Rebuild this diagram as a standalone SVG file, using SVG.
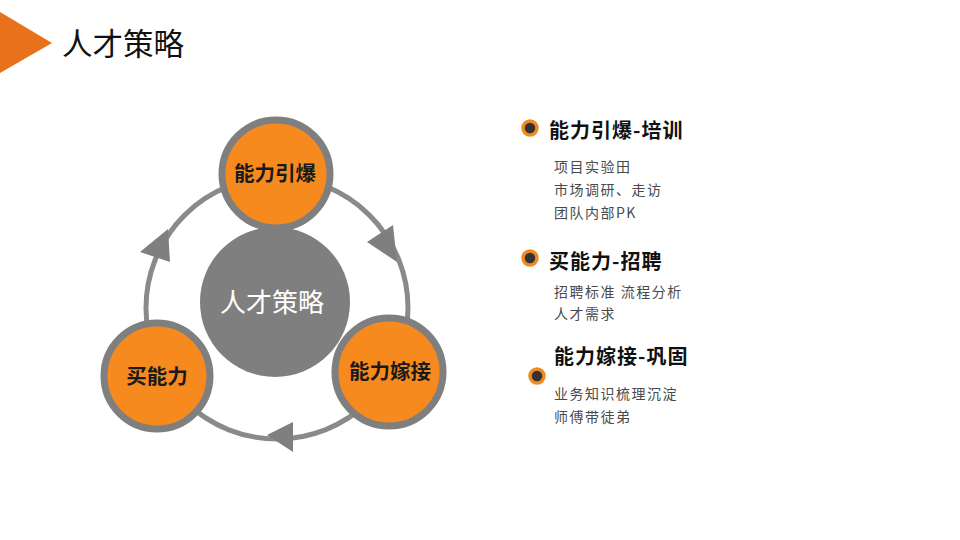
<svg xmlns="http://www.w3.org/2000/svg" width="960" height="540" viewBox="0 0 960 540">
<style>
.node{fill:#F68A1E;stroke:#7F7F7F;stroke-width:7}
.nl{font-family:"Noto Sans CJK SC",sans-serif;font-weight:bold;font-size:20.5px;fill:#1a1a1a;text-anchor:middle}
.h{font-family:"Noto Sans CJK SC",sans-serif;font-weight:bold;font-size:20px;letter-spacing:1px;fill:#111}
.it{font-family:"Noto Sans CJK SC",sans-serif;font-size:14px;letter-spacing:1.5px;fill:#4a4a4a}
.arr{fill:#7F7F7F}
</style>
<rect width="960" height="540" fill="#fff"/>
<polygon points="0,12 52,43 0,73" fill="#E8721C"/>
<text x="62" y="55" font-family="Noto Sans CJK SC,sans-serif" font-size="30.5" fill="#111">人才策略</text>
<g id="connectors">
<circle cx="277" cy="308" r="131" fill="none" stroke="#8A8A8A" stroke-width="5"/>
<polygon class="arr" points="168,229 140,252 170,262"/>
<polygon class="arr" points="397,262 367,242 393,225"/>
<polygon class="arr" points="267,435 293,422 293,452"/>
</g>
<g id="center">
<circle cx="275" cy="302" r="75" fill="#7F7F7F"/>
<text x="272" y="312" font-family="Noto Sans CJK SC,sans-serif" font-size="26" fill="#fff" text-anchor="middle">人才策略</text>
</g>
<g id="n1">
<circle class="node" cx="276" cy="174" r="54"/>
<text class="nl" x="275" y="181">能力引爆</text>
</g>
<g id="n2">
<circle class="node" cx="157" cy="376" r="53"/>
<text class="nl" x="157" y="384">买能力</text>
</g>
<g id="n3">
<circle class="node" cx="389" cy="372" r="54"/>
<text class="nl" x="390" y="379">能力嫁接</text>
</g>
<g id="list1">
<circle cx="530" cy="128" r="7" fill="#333" stroke="#F08A20" stroke-width="3.5"/>
<text class="h" x="549" y="138">能力引爆-培训</text>
<text class="it" x="554" y="172">项目实验田</text>
<text class="it" x="554" y="195">市场调研、走访</text>
<text class="it" x="554" y="218">团队内部PK</text>
</g>
<g id="list2">
<circle cx="530" cy="258" r="7" fill="#333" stroke="#F08A20" stroke-width="3.5"/>
<text class="h" x="549" y="269">买能力-招聘</text>
<text class="it" x="554" y="297">招聘标准 流程分析</text>
<text class="it" x="554" y="319">人才需求</text>
</g>
<g id="list3">
<circle cx="537" cy="376" r="7" fill="#333" stroke="#F08A20" stroke-width="3.5"/>
<text class="h" x="554" y="364">能力嫁接-巩固</text>
<text class="it" x="554" y="399">业务知识梳理沉淀</text>
<text class="it" x="554" y="422">师傅带徒弟</text>
</g>
</svg>
